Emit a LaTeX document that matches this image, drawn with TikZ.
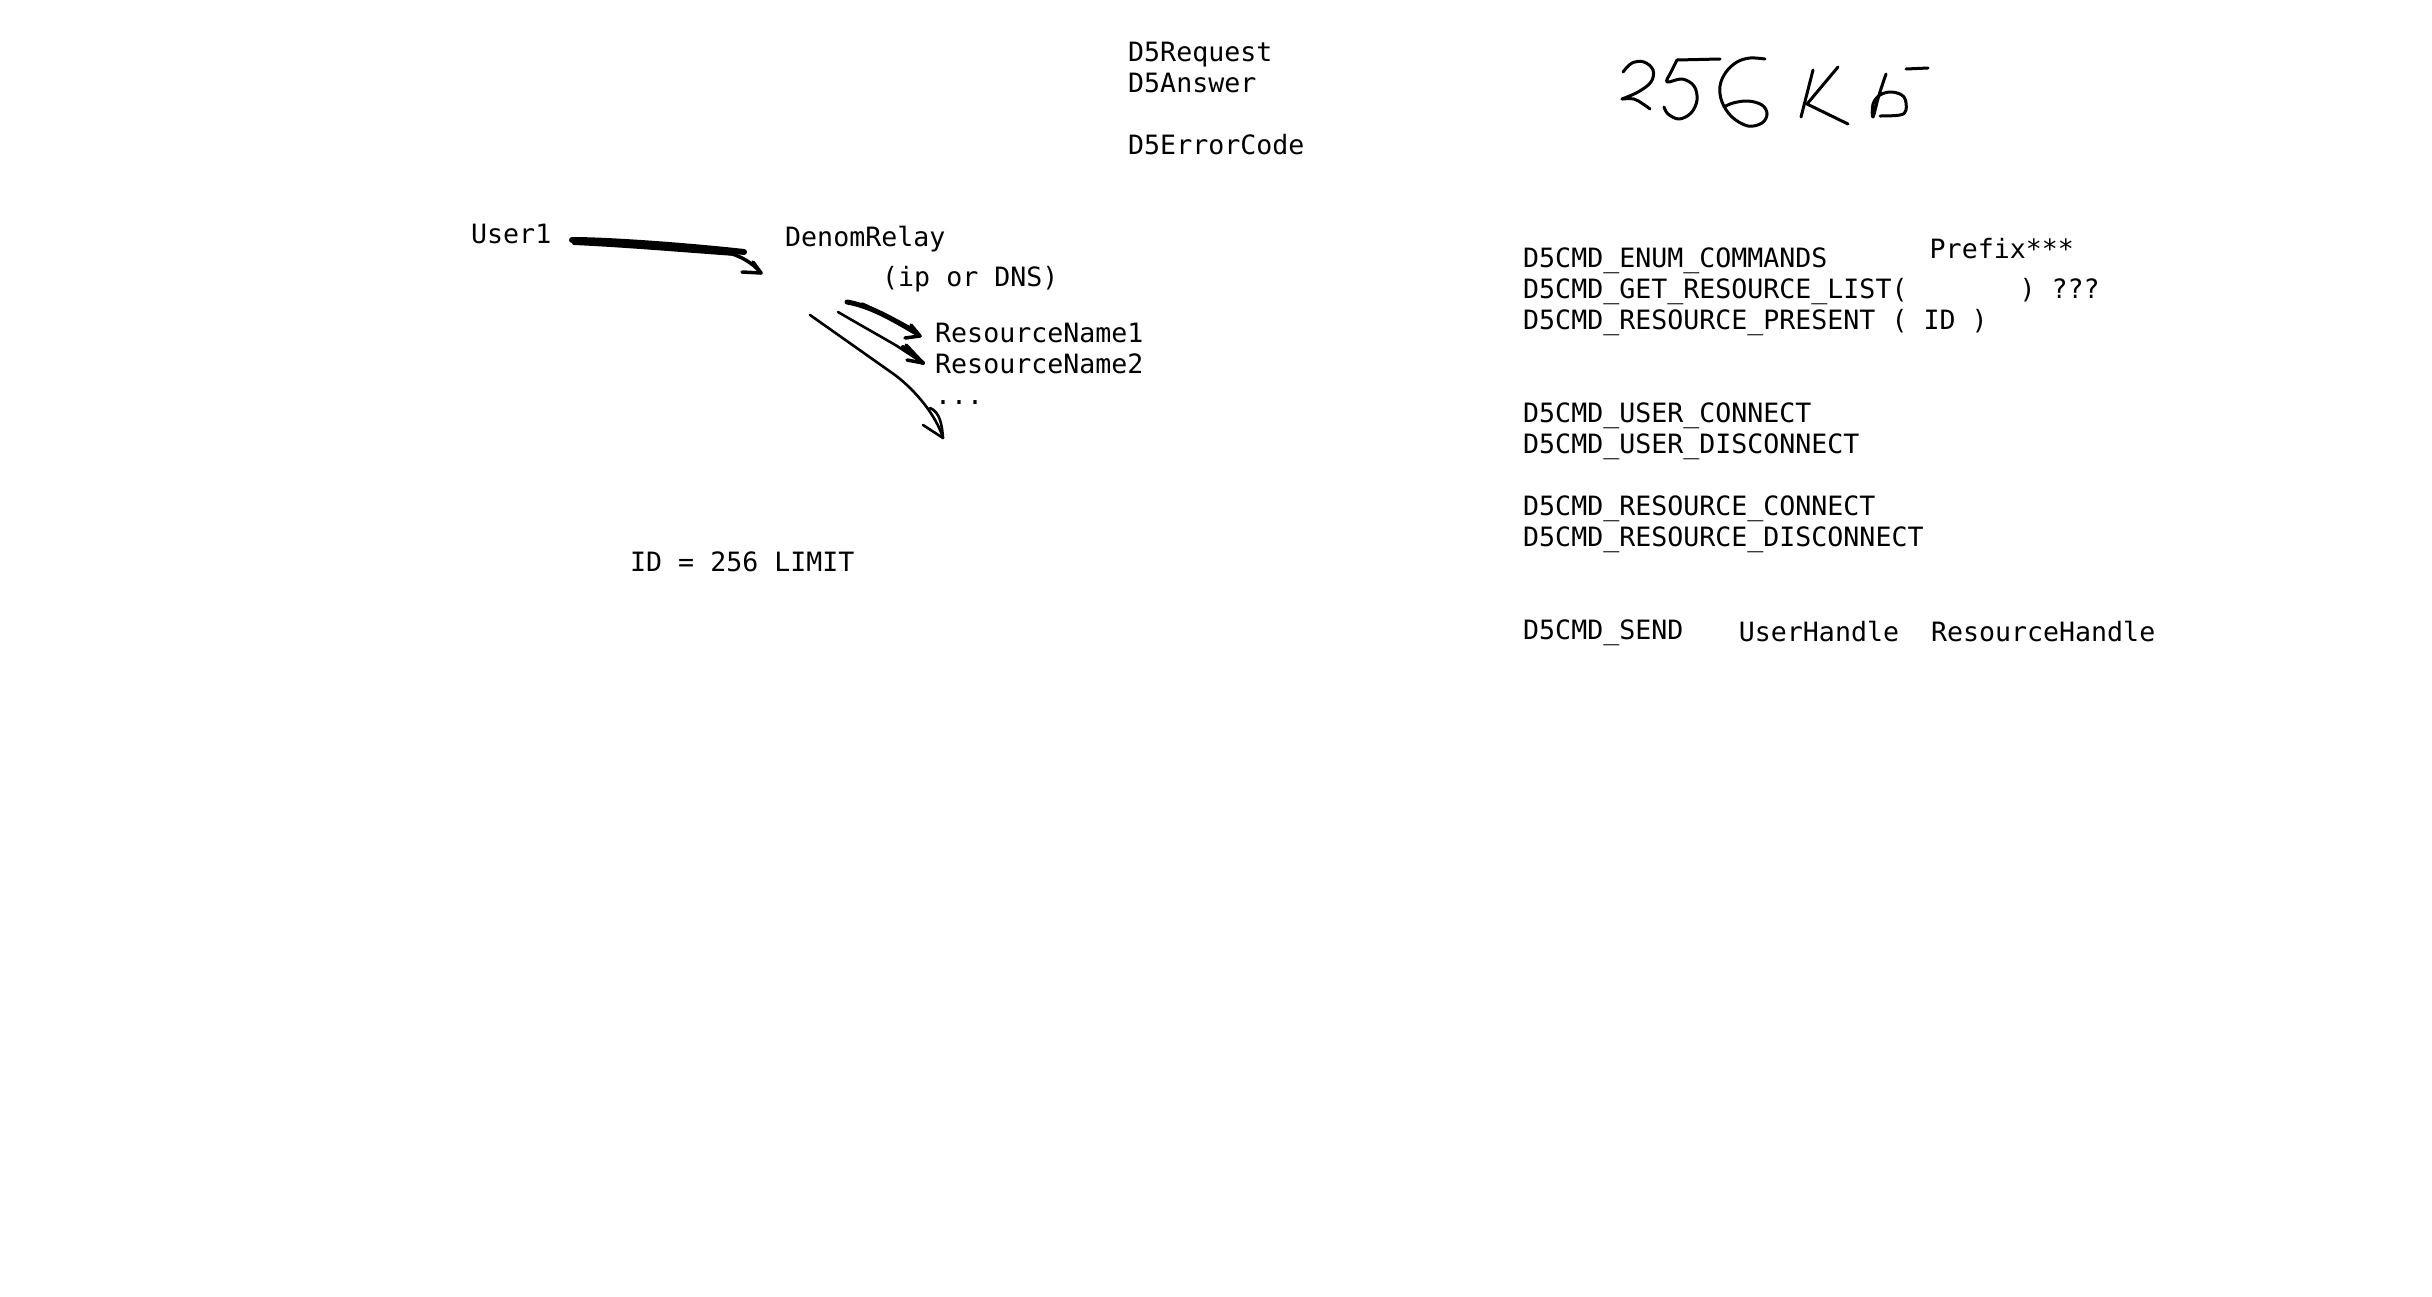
\documentclass[tikz,border=0pt]{standalone}
\usepackage{fontspec}
\setmonofont{DejaVu Sans Mono}
\begin{document}
\begin{tikzpicture}[x=1pt,y=-1pt,
  txt/.style={anchor=base west,inner sep=0pt,font=\ttfamily\fontsize{26.6}{31}\selectfont,text=black},
  hand/.style={draw=black,line cap=round,line join=round},
  thickhand/.style={hand,line width=5pt},
  thinhand/.style={hand,line width=2.6pt},
  writing/.style={hand,line width=3pt}]
\useasboundingbox[fill=white] (0,0) rectangle (2432,1296);

% left group
\node[txt] (u1) at (471,243) {User1};
\node[txt] (relay) at (785,246) {DenomRelay};
\node[txt] (ipdns) at (882,286) {(ip or DNS)};
\node[txt] (rn1) at (935,342) {ResourceName1};
\node[txt] (rn2) at (935,373) {ResourceName2};
\node[txt] (rndots) at (935,404) {...};
\node[txt] (idlimit) at (630,571) {ID = 256 LIMIT};

% middle group
\node[txt] (req) at (1128,61) {D5Request};
\node[txt] (ans) at (1128,92) {D5Answer};
\node[txt] (err) at (1128,154) {D5ErrorCode};

% right group
\node[txt] (cenum) at (1523,267.5) {D5CMD\_ENUM\_COMMANDS};
\node[txt] (cget) at (1523,298.5) {D5CMD\_GET\_RESOURCE\_LIST(~~~~~~~) ???};
\node[txt] (cpres) at (1523,329.5) {D5CMD\_RESOURCE\_PRESENT ( ID )};
\node[txt] (prefix) at (1929.5,258) {Prefix***};
\node[txt] (ucon) at (1523,422.6) {D5CMD\_USER\_CONNECT};
\node[txt] (udis) at (1523,453.6) {D5CMD\_USER\_DISCONNECT};
\node[txt] (rcon) at (1523,515.6) {D5CMD\_RESOURCE\_CONNECT};
\node[txt] (rdis) at (1523,546.6) {D5CMD\_RESOURCE\_DISCONNECT};
\node[txt] (send) at (1523,639.7) {D5CMD\_SEND};
\node[txt] (handles) at (1738.7,641) {UserHandle~~ResourceHandle};

% hand-drawn arrow User1 -> DenomRelay
\coordinate (a1s) at (572,240);
\coordinate (a1t) at (761,273);
\draw[thickhand,line width=6pt] (a1s) .. controls (610,240) and (690,246) .. (744,252);
\draw[hand,line width=4pt] (574,243) .. controls (620,245) and (680,250) .. (735,254);
\draw[hand,line width=3.5pt] (720,251) .. controls (738,254) and (752,262) .. (a1t);
\draw[hand,line width=3.5pt] (753,262) -- (a1t) -- (742,272);

% hand-drawn arrow to ResourceName1
\coordinate (a2s) at (847,302);
\coordinate (a2t) at (920,336);
\draw[thickhand] (a2s) .. controls (870,306) and (890,318) .. (912,330);
\draw[hand,line width=3.5pt] (862,304) .. controls (880,312) and (896,322) .. (a2t);
\draw[hand,line width=3.5pt] (911,325) -- (a2t) -- (905,338);

% hand-drawn arrow to ResourceName2
\coordinate (a3s) at (838,312);
\coordinate (a3t) at (923,363);
\draw[thinhand] (a3s) .. controls (855,322) and (880,336) .. (897,346) -- (a3t);
\draw[hand,line width=4pt] (903,347) -- (a3t);
\draw[hand,line width=3.5pt] (906,345) -- (a3t) -- (907,360);

% hand-drawn long arrow
\coordinate (a4s) at (810,315);
\coordinate (a4t) at (943,438);
\draw[thinhand] (a4s) -- (895,375) .. controls (915,390) and (936,415) .. (a4t);
\draw[thinhand] (930,408) .. controls (940,412) and (942,425) .. (a4t);
\draw[thinhand] (923,425) -- (a4t);

% handwritten "256 K б"
\draw[writing] plot[smooth,tension=0.6] coordinates {(1623,72) (1632,63) (1644,62) (1653,70) (1651,82) (1638,92) (1622,99)};
\draw[writing] plot[smooth,tension=0.6] coordinates {(1622,99) (1634,99) (1643,104) (1650,109)};
\draw[writing] (1677,60) -- (1720,59);
\draw[writing] plot[smooth,tension=0.6] coordinates {(1677,60) (1671,72) (1667,82) (1682,79) (1694,86) (1697,100) (1691,113) (1679,119) (1668,114) (1664,107)};
\draw[writing] plot[smooth,tension=0.6] coordinates {(1765,59) (1750,58) (1737,62) (1726,72) (1720,86) (1722,102) (1732,117) (1748,126) (1762,123) (1767,114) (1762,105) (1748,101) (1733,103) (1724,107)};
\draw[writing] (1813,70) -- (1801,117);
\draw[writing] (1838,67) -- (1807,104) -- (1848,124);
\draw[writing] plot[smooth,tension=0.6] coordinates {(1886,74) (1879,95) (1873,117) (1873,104) (1880,95) (1892,92) (1904,97) (1906,110) (1900,115) (1880,116)};
\draw[writing] (1906,69) -- (1928,68);
\end{tikzpicture}
\end{document}
